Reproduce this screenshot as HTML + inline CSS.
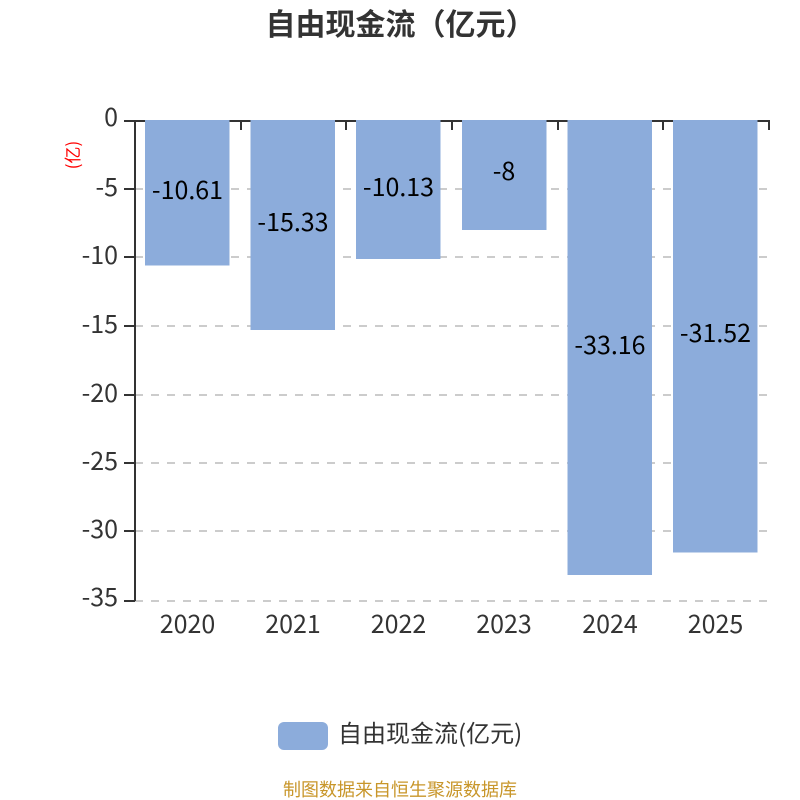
<!DOCTYPE html>
<html>
<head>
<meta charset="utf-8">
<style>
html,body{margin:0;padding:0;background:#fff;width:800px;height:800px;overflow:hidden}
svg{display:block}
text{font-family:"Noto Sans CJK SC","Liberation Sans",sans-serif}
</style>
</head>
<body>
<svg width="800" height="800" viewBox="0 0 800 800" xmlns="http://www.w3.org/2000/svg">
<rect width="800" height="800" fill="#fff"/>
<text x="265.5" y="35" font-size="30" font-weight="700" fill="#333">自由现金流（亿元）</text>

<g stroke="#ccc" stroke-width="2" stroke-dasharray="8 8">
<line x1="135" y1="189" x2="770" y2="189"/>
<line x1="135" y1="257" x2="770" y2="257"/>
<line x1="135" y1="326" x2="770" y2="326"/>
<line x1="135" y1="395" x2="770" y2="395"/>
<line x1="135" y1="463" x2="770" y2="463"/>
<line x1="135" y1="531" x2="770" y2="531"/>
<line x1="135" y1="601" x2="770" y2="601"/>
</g>

<g stroke="#333" stroke-width="2" fill="none">
<line x1="135" y1="120" x2="135" y2="601"/>
<line x1="124" y1="121" x2="770" y2="121"/>
<line x1="124" y1="189" x2="135" y2="189"/>
<line x1="124" y1="257" x2="135" y2="257"/>
<line x1="124" y1="326" x2="135" y2="326"/>
<line x1="124" y1="395" x2="135" y2="395"/>
<line x1="124" y1="463" x2="135" y2="463"/>
<line x1="124" y1="531" x2="135" y2="531"/>
<line x1="124" y1="601" x2="135" y2="601"/>
<line x1="241" y1="120" x2="241" y2="130"/>
<line x1="346" y1="120" x2="346" y2="130"/>
<line x1="452" y1="120" x2="452" y2="130"/>
<line x1="558" y1="120" x2="558" y2="130"/>
<line x1="663" y1="120" x2="663" y2="130"/>
<line x1="769" y1="120" x2="769" y2="130"/>
</g>

<g fill="#8cacdb">
<rect x="145" y="120" width="84.5" height="145.5"/>
<rect x="250.5" y="120" width="84.5" height="210"/>
<rect x="356" y="120" width="84.5" height="139"/>
<rect x="462" y="120" width="84.5" height="110"/>
<rect x="567.5" y="120" width="84.5" height="455"/>
<rect x="673" y="120" width="84.5" height="432.5"/>
</g>

<g font-size="25" fill="#333" text-anchor="end">
<text x="118" y="126">0</text>
<text x="118" y="196">-5</text>
<text x="118" y="264">-10</text>
<text x="118" y="333">-15</text>
<text x="118" y="402">-20</text>
<text x="118" y="470">-25</text>
<text x="118" y="538">-30</text>
<text x="118" y="606">-35</text>
</g>

<text transform="translate(79,155) rotate(-90)" font-size="17" fill="#f00" text-anchor="middle">(亿)</text>

<g font-size="25" fill="#333" text-anchor="middle">
<text x="187.5" y="633">2020</text>
<text x="293" y="633">2021</text>
<text x="398.5" y="633">2022</text>
<text x="504" y="633">2023</text>
<text x="610" y="633">2024</text>
<text x="715.5" y="633">2025</text>
</g>

<g font-size="25" fill="#000" text-anchor="middle">
<text x="187.5" y="199">-10.61</text>
<text x="293" y="231">-15.33</text>
<text x="398.5" y="196">-10.13</text>
<text x="504" y="180">-8</text>
<text x="610" y="354">-33.16</text>
<text x="715.5" y="342">-31.52</text>
</g>

<rect x="278" y="722" width="50" height="28" rx="6" ry="6" fill="#8cacdb"/>
<text x="338" y="742" font-size="24" fill="#333">自由现金流(亿元)</text>
<text x="400" y="796" font-size="18" fill="#c8962a" text-anchor="middle">制图数据来自恒生聚源数据库</text>
</svg>
</body>
</html>
